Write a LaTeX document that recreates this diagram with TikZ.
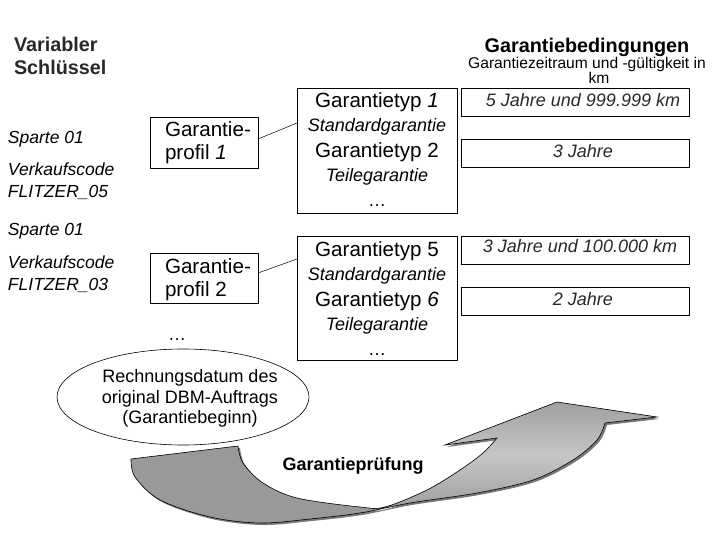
\documentclass[tikz,border=0pt]{standalone}
\usepackage{fontspec}
\setmainfont{Liberation Sans}
\usetikzlibrary{shapes.geometric}
\definecolor{dk}{RGB}{100,100,100}
\definecolor{lt}{RGB}{198,198,198}
\definecolor{flatgray}{RGB}{153,153,153}
\definecolor{shadowgray}{RGB}{120,120,120}
\definecolor{txtgray}{RGB}{40,40,40}
\def\arrowpath{(131,459) -- plot[smooth,tension=0.55] coordinates {(131,459) (135,477) (160,500) (210,517) (260,523) (310,519) (360,513) (410,503) (477,493) (533,480) (573,460) (597,440) (605,423)} -- (657,417) -- (557,402) -- (445,445) -- plot[smooth,tension=0.55] coordinates {(497,438) (483,453) (460,470) (427,490) (385,507) (360,507) (297,498) (263,483) (243,463) (238,446)} -- cycle}
\begin{document}
\begin{tikzpicture}[x=1pt,y=-1pt,
  box/.style={draw, line width=0.8pt, inner sep=0pt, outer sep=0pt},
  txt/.style={inner sep=0pt, outer sep=0pt, anchor=base},
  lefttxt/.style={inner sep=0pt, outer sep=0pt, anchor=base west},
  headb/.style={font=\fontsize{19.8}{23}\selectfont\bfseries},
  big/.style={font=\fontsize{20.6}{24}\selectfont},
  mid/.style={font=\fontsize{18}{21}\selectfont},
  midit/.style={font=\fontsize{18}{21}\selectfont\itshape},
  leftit/.style={font=\fontsize{17.5}{21}\selectfont\itshape},
  small/.style={font=\fontsize{15.6}{18}\selectfont},
  conn/.style={line width=0.5pt}]
\useasboundingbox (0,0) rectangle (720,540);

% headings
\node[lefttxt, headb, text=txtgray] (vs1) at (14,52) {Variabler};
\node[lefttxt, headb, text=txtgray] (vs2) at (14,75) {Schlüssel};
\node[txt, headb] (gb) at (587,53) {Garantiebedingungen};
\node[txt, small] (gz1) at (587,69) {Garantiezeitraum und -gültigkeit in};
\node[txt, small] (gz2) at (599,84) {km};

% left keys
\node[lefttxt, leftit] (s1) at (8,144) {Sparte 01};
\node[lefttxt, leftit] (k1) at (8,176) {Verkaufscode};
\node[lefttxt, leftit] (f1) at (8,198) {FLITZER\_05};
\node[lefttxt, leftit] (s2) at (8,236) {Sparte 01};
\node[lefttxt, leftit] (k2) at (8,268) {Verkaufscode};
\node[lefttxt, leftit] (f2) at (8,290) {FLITZER\_03};

% profile boxes
\node[box, minimum width=108pt, minimum height=51pt] (p1) at (204,142.5) {};
\node[lefttxt, big] (p1a) at (165,137) {Garantie-};
\node[lefttxt, big] (p1b) at (165,160) {profil \textit{1}};
\node[box, minimum width=108pt, minimum height=50pt] (p2) at (204,278) {};
\node[lefttxt, big] (p2a) at (165,273) {Garantie-};
\node[lefttxt, big] (p2b) at (165,296) {profil 2};
\node[txt, mid] (pdots) at (177,340) {\dots};

% type boxes
\node[box, minimum width=160pt, minimum height=125pt] (t1) at (377,150.5) {};
\node[txt, big] (t1a) at (377,108) {Garantietyp \textit{1}};
\node[txt, midit] (t1b) at (377,132) {Standardgarantie};
\node[txt, big] (t1c) at (377,158) {Garantietyp 2};
\node[txt, midit] (t1d) at (377,182) {Teilegarantie};
\node[txt, mid] (t1e) at (377,207) {\dots};

\node[box, minimum width=160pt, minimum height=124pt] (t2) at (377,298) {};
\node[txt, big] (t2a) at (377,256) {Garantietyp 5};
\node[txt, midit] (t2b) at (377,280) {Standardgarantie};
\node[txt, big] (t2c) at (377,306) {Garantietyp \textit{6}};
\node[txt, midit] (t2d) at (377,330) {Teilegarantie};
\node[txt, mid] (t2e) at (377,355) {\dots};

% connectors
\draw[conn] ([yshift=3.5pt]p1.east) -- ([yshift=27.5pt]t1.west);
\draw[conn] ([yshift=5pt]p2.east) -- ([yshift=39pt]t2.west);

% condition boxes
\node[box, minimum width=228pt, minimum height=28pt] (c1) at (575,102) {};
\node[txt, midit, text=txtgray] (c1t) at (583,107) {5 Jahre und 999.999 km};
\node[box, minimum width=228pt, minimum height=28pt] (c2) at (575,153) {};
\node[txt, midit, text=txtgray] (c2t) at (583,158) {3 Jahre};
\node[box, minimum width=228pt, minimum height=28pt] (c3) at (575,250) {};
\node[txt, midit, text=txtgray] (c3t) at (580,252) {3 Jahre und 100.000 km};
\node[box, minimum width=228pt, minimum height=28pt] (c4) at (575,301) {};
\node[txt, midit, text=txtgray] (c4t) at (583,305) {2 Jahre};

% big arrow
\fill[shadowgray, xshift=2pt, yshift=-2pt] \arrowpath;
\fill[flatgray] \arrowpath;
\begin{scope}
  \clip \arrowpath;
  \clip (384,380) rectangle (720,540);
  \begin{scope}[shift={(520,455)}, rotate=21]
    \shade[top color=dk, bottom color=dk, middle color=lt] (-260,-45) rectangle (260,45);
  \end{scope}
\end{scope}
\draw[line width=0.6pt] \arrowpath;

% ellipse
\node[draw, ellipse, line width=0.6pt, fill=white, minimum width=252pt, minimum height=96pt, inner sep=0pt] (ell) at (183,397) {};
\node[txt, mid] (e1) at (190,382) {Rechnungsdatum des};
\node[txt, mid] (e2) at (190,403) {original DBM-Auftrags};
\node[txt, mid] (e3) at (190,423) {(Garantiebeginn)};

\node[txt, font=\fontsize{18}{21}\selectfont\bfseries] (gp) at (353,470) {Garantieprüfung};
\end{tikzpicture}
\end{document}
